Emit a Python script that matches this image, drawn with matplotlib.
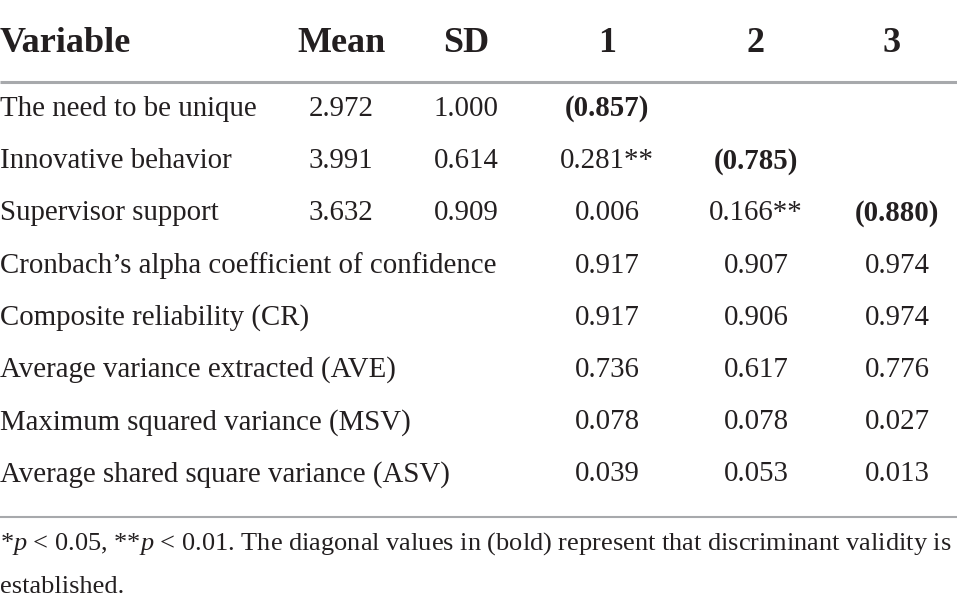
import matplotlib.pyplot as plt

plt.rcParams['font.family'] = ['Liberation Serif', 'DejaVu Serif']
plt.rcParams['mathtext.fontset'] = 'custom'
plt.rcParams['mathtext.rm'] = 'Liberation Serif'
plt.rcParams['mathtext.it'] = 'Liberation Serif:italic'

# table content
header = ['Variable', 'Mean', 'SD', '1', '2', '3']
variables = ['The need to be unique', 'Innovative behavior', 'Supervisor support',
             'Cronbach\u2019s alpha coefficient of confidence',
             'Composite reliability (CR)', 'Average variance extracted (AVE)',
             'Maximum squared variance (MSV)', 'Average shared square variance (ASV)']
means = ['2.972', '3.991', '3.632', '', '', '', '', '']
sds = ['1.000', '0.614', '0.909', '', '', '', '', '']
col1 = ['(0.857)', '0.281**', '0.006', '0.917', '0.917', '0.736', '0.078', '0.039']
col2 = ['', '(0.785)', '0.166**', '0.907', '0.906', '0.617', '0.078', '0.053']
col3 = ['', '', '(0.880)', '0.974', '0.974', '0.776', '0.027', '0.013']
bold_cells = {(0, 1), (1, 2), (2, 3)}  # (row, corr column) on the diagonal
footnote = ['*$p$ < 0.05, **$p$ < 0.01. The diagonal values in (bold) represent that discriminant validity is',
            'established.']

W, H = 957, 607
fig = plt.figure(figsize=(W / 100, H / 100), dpi=100)
ax = fig.add_axes([0, 0, 1, 1])
ax.set_xlim(0, W)
ax.set_ylim(H, 0)
ax.axis('off')

txt = '#231f20'
head_x = [0, 341, 466, 607, 756, 892]
col_x = [0, 341, 466, 607, 756, 897]
head_y = 43
row_y0, row_dy = 109, 52.2
fs_head, fs_body = 26, 20.8

for i, h in enumerate(header):
    ax.text(head_x[i], head_y, h, ha='left' if i == 0 else 'center', va='center',
            fontsize=fs_head, fontweight='bold', color=txt)

ax.plot([0, W], [82, 82], color='#a7a9ac', lw=2.2, solid_capstyle='butt')

for r, var in enumerate(variables):
    y = row_y0 + r * row_dy
    ax.text(col_x[0], y, var, ha='left', va='center', fontsize=fs_body, color=txt)
    cells = [means[r], sds[r], col1[r], col2[r], col3[r]]
    for c, val in enumerate(cells):
        if not val:
            continue
        bold = (r, c - 1) in bold_cells
        ax.text(col_x[c + 1], y, val, ha='center', va='center', fontsize=fs_body,
                fontweight='bold' if bold else 'normal', color=txt)

ax.plot([0, W], [517, 517], color='#a7a9ac', lw=1.5, solid_capstyle='butt')

for k, line in enumerate(footnote):
    ax.text(0, 544 + k * 43, line, ha='left', va='center', fontsize=19, color=txt)

fig.savefig('out.png', dpi=100)
